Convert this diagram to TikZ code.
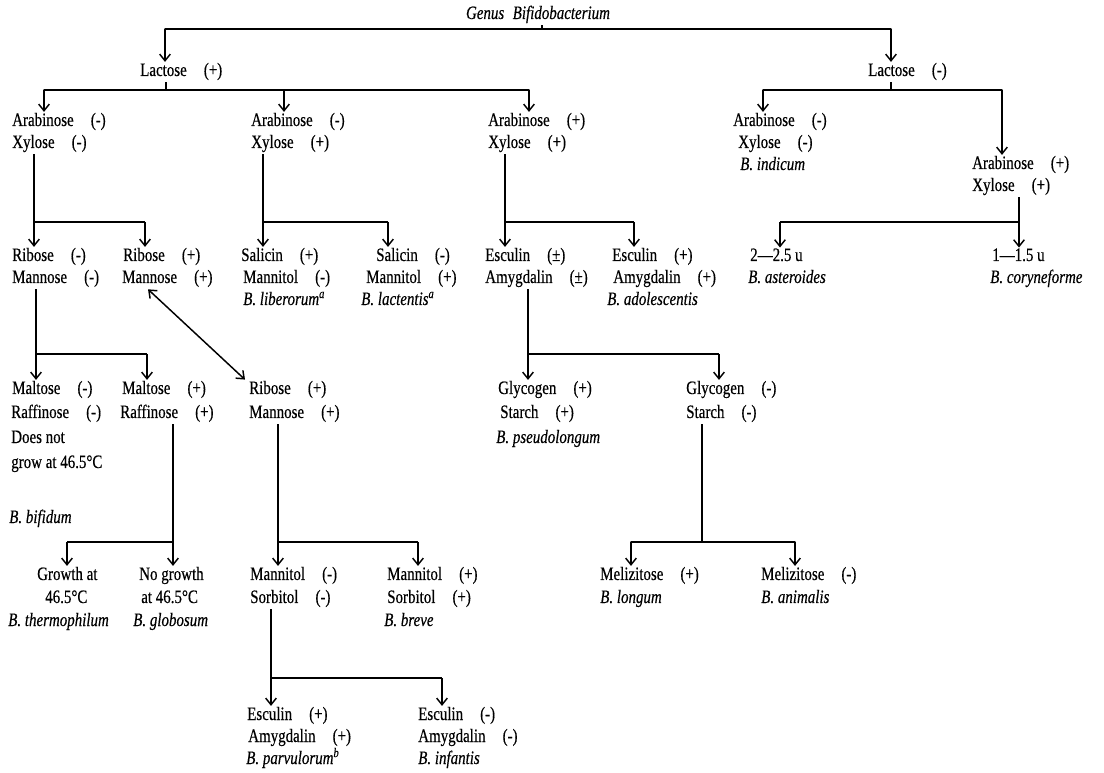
\documentclass[tikz,border=0pt]{standalone}
\usepackage{fontspec}
\setmainfont{Liberation Serif}[FakeStretch=0.79,FakeBold=0.4]
\usetikzlibrary{arrows.meta,calc}
\newcommand{\sg}[1]{\hspace{0.9em}(#1)}
\begin{document}
\begin{tikzpicture}[x=0.75pt,y=-0.75pt,
  txt/.style={anchor=base west,inner sep=0pt,font=\fontsize{14.2}{16}\selectfont},
  spc/.style={anchor=base west,inner sep=0pt,font=\fontsize{14.2}{16}\selectfont\itshape},
  ln/.style={line width=1.1pt,line cap=round},
  arr/.style={line width=1.1pt,-{Straight Barb[length=5pt,width=8pt]},shorten >=0.5pt},
  dbl/.style={line width=1.1pt,{Straight Barb[length=5pt,width=8pt]}-{Straight Barb[length=5pt,width=8pt]}},
  stem/.style={line width=1.1pt,shorten <=1.5pt}]
\fill[white] (0,0) rectangle (1104,773);
\useasboundingbox (0,0) rectangle (1104,773);

% ---------- text ----------
\node[spc,anchor=base] (title) at (538,19) {Genus\hspace{0.45em}Bifidobacterium};
\node[txt] (lp) at (140,76) {Lactose\sg{+}};
\node[txt] (lm) at (868,76) {Lactose\sg{-}};

\node[txt] (a1) at (12,126) {Arabinose\sg{-}};
\node[txt] (x1) at (12,148) {Xylose\sg{-}};
\node[txt] (a2) at (251,126) {Arabinose\sg{-}};
\node[txt] (x2) at (251,148) {Xylose\sg{+}};
\node[txt] (a3) at (488,126) {Arabinose\sg{+}};
\node[txt] (x3) at (488,148) {Xylose\sg{+}};
\node[txt] (a4) at (733,126) {Arabinose\sg{-}};
\node[txt] (x4) at (738,148) {Xylose\sg{-}};
\node[spc] (ind) at (740,170) {B. indicum};
\node[txt] (a5) at (972,169) {Arabinose\sg{+}};
\node[txt] (x5) at (972,191) {Xylose\sg{+}};

\node[txt] (r1) at (12,261) {Ribose\sg{-}};
\node[txt] (m1) at (12,283) {Mannose\sg{-}};
\node[txt] (r2) at (123,261) {Ribose\sg{+}};
\node[txt] (m2) at (122,283) {Mannose\sg{+}};
\node[txt] (sa1) at (241,261) {Salicin\sg{+}};
\node[txt] (mt1) at (243,283) {Mannitol\sg{-}};
\node[spc] (lib) at (243,305) {B. liberorum\textsuperscript{a}};
\node[txt] (sa2) at (376,261) {Salicin\sg{-}};
\node[txt] (mt2) at (366,283) {Mannitol\sg{+}};
\node[spc] (lac) at (361,305) {B. lactentis\textsuperscript{a}};
\node[txt] (e1) at (485,261) {Esculin\sg{±}};
\node[txt] (am1) at (485,283) {Amygdalin\sg{±}};
\node[txt] (e2) at (612,261) {Esculin\sg{+}};
\node[txt] (am2) at (613,283) {Amygdalin\sg{+}};
\node[spc] (ado) at (607,305) {B. adolescentis};
\node[txt] (u1) at (750,261) {2—2.5 u};
\node[spc] (ast) at (748,283) {B. asteroides};
\node[txt] (u2) at (992,261) {1—1.5 u};
\node[spc] (cor) at (990,283) {B. coryneforme};

\node[txt] (mal1) at (12,394) {Maltose\sg{-}};
\node[txt] (raf1) at (11,418) {Raffinose\sg{-}};
\node[txt] (dn) at (11,443) {Does not};
\node[txt] (gr) at (11,468) {grow at 46.5°C};
\node[spc] (bif) at (9,523) {B. bifidum};
\node[txt] (mal2) at (122,394) {Maltose\sg{+}};
\node[txt] (raf2) at (120,418) {Raffinose\sg{+}};
\node[txt] (r3) at (249,394) {Ribose\sg{+}};
\node[txt] (m3) at (249,418) {Mannose\sg{+}};
\node[txt] (g1) at (498,394) {Glycogen\sg{+}};
\node[txt] (st1) at (500,418) {Starch\sg{+}};
\node[spc] (pse) at (496,443) {B. pseudolongum};
\node[txt] (g2) at (686,394) {Glycogen\sg{-}};
\node[txt] (st2) at (686,418) {Starch\sg{-}};

\node[txt] (gw) at (37,580) {Growth at};
\node[txt] (t1) at (45,603) {46.5°C};
\node[spc] (the) at (8,626) {B. thermophilum};
\node[txt] (ng) at (139,580) {No growth};
\node[txt] (t2) at (141,603) {at 46.5°C};
\node[spc] (glo) at (133,626) {B. globosum};
\node[txt] (mn3) at (250,580) {Mannitol\sg{-}};
\node[txt] (so1) at (250,603) {Sorbitol\sg{-}};
\node[txt] (mn4) at (387,580) {Mannitol\sg{+}};
\node[txt] (so2) at (387,603) {Sorbitol\sg{+}};
\node[spc] (bre) at (384,626) {B. breve};
\node[txt] (me1) at (600,580) {Melizitose\sg{+}};
\node[spc] (lon) at (600,603) {B. longum};
\node[txt] (me2) at (761,580) {Melizitose\sg{-}};
\node[spc] (ani) at (761,603) {B. animalis};

\node[txt] (e3) at (247,720) {Esculin\sg{+}};
\node[txt] (am3) at (248,742) {Amygdalin\sg{+}};
\node[spc] (par) at (246,764) {B. parvulorum\textsuperscript{b}};
\node[txt] (e4) at (418,720) {Esculin\sg{-}};
\node[txt] (am4) at (418,742) {Amygdalin\sg{-}};
\node[spc] (inf) at (418,764) {B. infantis};

% ---------- connectors ----------
% title
\coordinate (s0) at (542,29); \coordinate (s0a) at (165,29); \coordinate (s0b) at (891,29);
\draw[stem] (title.south -| s0) -- (s0);
\draw[ln] (s0a) -- (s0b);
\draw[arr] (s0a) -- (lp.north -| s0a);
\draw[arr] (s0b) -- (lm.north -| s0b);
% Lactose (+)
\coordinate (s1) at (166,90); \coordinate (s1a) at (44,90); \coordinate (s1b) at (284,90); \coordinate (s1c) at (529,90);
\draw[stem] (lp.south -| s1) -- (s1);
\draw[ln] (s1a) -- (s1c);
\draw[arr] (s1a) -- (a1.north -| s1a);
\draw[arr] (s1b) -- (a2.north -| s1b);
\draw[arr] (s1c) -- (a3.north -| s1c);
% Lactose (-)
\coordinate (s2) at (891,90); \coordinate (s2a) at (763,90); \coordinate (s2b) at (1002,90);
\draw[stem] (lm.south -| s2) -- (s2);
\draw[ln] (s2a) -- (s2b);
\draw[arr] (s2a) -- (a4.north -| s2a);
\draw[arr] (s2b) -- (a5.north -| s2b);
% Xylose (-) left
\coordinate (s3) at (34,222); \coordinate (s3b) at (145,222);
\draw[stem] (x1.south -| s3) -- (s3) -- (s3b);
\draw[arr] (s3) -- (r1.north -| s3);
\draw[arr] (s3b) -- (r2.north -| s3b);
% Xylose (+) second
\coordinate (s4) at (263,222); \coordinate (s4b) at (388,222);
\draw[stem] (x2.south -| s4) -- (s4) -- (s4b);
\draw[arr] (s4) -- (sa1.north -| s4);
\draw[arr] (s4b) -- (sa2.north -| s4b);
% Xylose (+) third
\coordinate (s5) at (505,222); \coordinate (s5b) at (634,222);
\draw[stem] (x3.south -| s5) -- (s5) -- (s5b);
\draw[arr] (s5) -- (e1.north -| s5);
\draw[arr] (s5b) -- (e2.north -| s5b);
% Xylose (+) right
\coordinate (s6) at (1019,222); \coordinate (s6a) at (780,222);
\draw[stem] (x5.south -| s6) -- (s6) -- (s6a);
\draw[arr] (s6a) -- (u1.north -| s6a);
\draw[arr] (s6) -- (u2.north -| s6);
% Mannose (-)
\coordinate (s7) at (36,354); \coordinate (s7b) at (147,354);
\draw[stem] (m1.south -| s7) -- (s7) -- (s7b);
\draw[arr] (s7) -- (mal1.north -| s7);
\draw[arr] (s7b) -- (mal2.north -| s7b);
% Amygdalin (+-)
\coordinate (s8) at (528,354); \coordinate (s8b) at (719,354);
\draw[stem] (am1.south -| s8) -- (s8) -- (s8b);
\draw[arr] (s8) -- (g1.north -| s8);
\draw[arr] (s8b) -- (g2.north -| s8b);
% Mannose (+) <-> Ribose (+)
\draw[dbl] ($(m2.south west)+(26,2)$) -- ($(r3.north west)+(-4,-1)$);
% Raffinose (+)
\coordinate (s9) at (173,542); \coordinate (s9a) at (67,542);
\draw[stem] (raf2.south -| s9) -- (s9) -- (s9a);
\draw[arr] (s9a) -- (gw.north -| s9a);
\draw[arr] (s9) -- (ng.north -| s9);
% Mannose (+) second
\coordinate (s10) at (278,542); \coordinate (s10b) at (418,542);
\draw[stem] (m3.south -| s10) -- (s10) -- (s10b);
\draw[arr] (s10) -- (mn3.north -| s10);
\draw[arr] (s10b) -- (mn4.north -| s10b);
% Starch (-)
\coordinate (s11) at (702,542); \coordinate (s11a) at (631,542); \coordinate (s11b) at (795,542);
\draw[stem] (st2.south -| s11) -- (s11);
\draw[ln] (s11a) -- (s11b);
\draw[arr] (s11a) -- (me1.north -| s11a);
\draw[arr] (s11b) -- (me2.north -| s11b);
% Sorbitol (-)
\coordinate (s12) at (271,678); \coordinate (s12b) at (442,678);
\draw[stem] (so1.south -| s12) -- (s12) -- (s12b);
\draw[arr] (s12) -- (e3.north -| s12);
\draw[arr] (s12b) -- (e4.north -| s12b);
\end{tikzpicture}
\end{document}
